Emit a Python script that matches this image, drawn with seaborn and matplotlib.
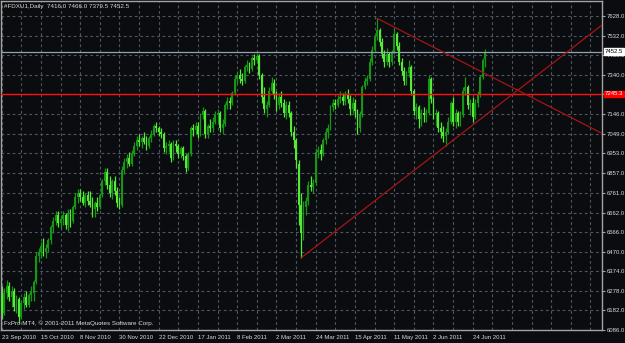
import numpy as np
import pandas as pd
import matplotlib
matplotlib.use("Agg")
import matplotlib.pyplot as plt
import matplotlib.transforms as mtransforms
import seaborn as sns

# ---------------- data ----------------
symbol_title = "#FDXU1,Daily  7416.0 7466.0 7379.5 7452.5"
copyright_text = "FxPro MT4, \u00a9 2001-2011 MetaQuotes Software Corp."

opens = [
    6260, 6170, 6270, 6300, 6250, 6280, 6200, 6240, 6150, 6220,
    6250, 6210, 6260, 6270, 6320, 6450, 6470, 6500, 6470, 6490,
    6530, 6590, 6620, 6650, 6610, 6630, 6650, 6600, 6660, 6620,
    6690, 6740, 6760, 6740, 6710, 6750, 6720, 6700, 6680, 6710,
    6690, 6750, 6820, 6860, 6800, 6760, 6820, 6770, 6710, 6700,
    6870, 6910, 6930, 6900, 6950, 6990, 7020, 7010, 7030, 7010,
    6990, 7030, 7050, 7090, 7080, 7060, 7050, 6980, 6990, 7000,
    6930, 7000, 6990, 6950, 6980, 6940, 6880, 6950, 7080, 7070,
    7090, 7050, 7140, 7160, 7050, 7090, 7080, 7110, 7140, 7150,
    7080, 7100, 7190, 7210, 7200, 7250, 7320, 7340, 7320, 7310,
    7380, 7390, 7370, 7420, 7410, 7430, 7340, 7230, 7170, 7190,
    7260, 7300, 7240, 7190, 7230, 7200, 7150, 7190, 7150, 7060,
    7020, 6900, 6700, 6560, 6690, 6720, 6800, 6790, 6810, 6960,
    6970, 6950, 7020, 7060, 7080, 7180, 7200, 7190, 7220, 7230,
    7210, 7240, 7220, 7170, 7200, 7160, 7080, 7140, 7280, 7310,
    7320, 7400, 7460, 7530, 7560, 7500, 7440, 7400, 7440, 7400,
    7450, 7540, 7480, 7400, 7360, 7310, 7350, 7380, 7260, 7160,
    7180, 7120, 7150, 7140, 7150, 7320, 7220, 7140, 7150, 7080,
    7060, 7040, 7060, 7110, 7200, 7110, 7150, 7110, 7140, 7260,
    7280, 7190, 7200, 7130, 7200, 7240, 7330, 7416.0,
]
highs = [
    6300, 6290, 6330, 6320, 6300, 6290, 6260, 6250, 6230, 6270,
    6280, 6270, 6300, 6330, 6470, 6490, 6520, 6540, 6510, 6540,
    6600, 6640, 6670, 6670, 6650, 6670, 6660, 6680, 6680, 6700,
    6760, 6780, 6780, 6770, 6760, 6770, 6770, 6740, 6720, 6740,
    6760, 6830, 6880, 6880, 6840, 6830, 6840, 6790, 6740, 6890,
    6930, 6950, 6960, 6970, 7010, 7040, 7050, 7040, 7060, 7040,
    7040, 7070, 7100, 7110, 7090, 7080, 7060, 7010, 7020, 7010,
    7020, 7020, 7000, 6990, 6990, 6950, 6960, 7090, 7100, 7110,
    7110, 7150, 7180, 7170, 7100, 7120, 7130, 7160, 7170, 7160,
    7120, 7200, 7230, 7230, 7260, 7340, 7360, 7370, 7350, 7390,
    7410, 7400, 7430, 7440, 7446, 7440, 7350, 7280, 7210, 7280,
    7330, 7320, 7260, 7250, 7260, 7220, 7210, 7210, 7160, 7090,
    7030, 6920, 6760, 6720, 6740, 6820, 6840, 6830, 6980, 6990,
    7000, 7030, 7080, 7100, 7190, 7220, 7220, 7240, 7260, 7250,
    7260, 7270, 7240, 7230, 7220, 7170, 7160, 7290, 7330, 7340,
    7420, 7480, 7540, 7617, 7570, 7520, 7460, 7470, 7450, 7460,
    7570, 7550, 7500, 7420, 7380, 7360, 7410, 7390, 7270, 7200,
    7190, 7170, 7180, 7170, 7340, 7330, 7230, 7170, 7160, 7110,
    7090, 7080, 7130, 7210, 7230, 7170, 7160, 7160, 7280, 7330,
    7290, 7220, 7230, 7220, 7260, 7340, 7420, 7466.0,
]
lows = [
    6140, 6160, 6240, 6230, 6200, 6180, 6170, 6120, 6140, 6190,
    6200, 6200, 6230, 6230, 6310, 6420, 6440, 6450, 6440, 6470,
    6510, 6560, 6600, 6590, 6580, 6600, 6580, 6570, 6590, 6610,
    6680, 6710, 6720, 6700, 6690, 6700, 6690, 6640, 6640, 6670,
    6680, 6740, 6800, 6780, 6740, 6730, 6750, 6690, 6680, 6690,
    6850, 6880, 6890, 6890, 6940, 6970, 6990, 6980, 7000, 6970,
    6980, 7010, 7040, 7060, 7040, 7030, 6960, 6950, 6960, 6910,
    6920, 6960, 6930, 6930, 6920, 6860, 6870, 6940, 7040, 7050,
    7030, 7040, 7120, 7030, 7030, 7060, 7060, 7100, 7110, 7060,
    7050, 7090, 7170, 7170, 7190, 7240, 7300, 7300, 7290, 7300,
    7360, 7350, 7360, 7390, 7400, 7320, 7200, 7150, 7130, 7180,
    7250, 7220, 7160, 7170, 7180, 7130, 7120, 7130, 7040, 6980,
    6880, 6600, 6440, 6530, 6650, 6700, 6770, 6760, 6800, 6930,
    6920, 6940, 7000, 7030, 7070, 7160, 7170, 7180, 7200, 7190,
    7190, 7200, 7140, 7150, 7130, 7050, 7060, 7130, 7270, 7290,
    7310, 7390, 7450, 7510, 7480, 7420, 7380, 7390, 7380, 7390,
    7440, 7460, 7390, 7340, 7290, 7290, 7330, 7240, 7140, 7120,
    7080, 7090, 7110, 7110, 7140, 7200, 7120, 7090, 7060, 7030,
    7010, 6990, 7050, 7100, 7090, 7080, 7090, 7090, 7130, 7240,
    7170, 7140, 7110, 7120, 7180, 7230, 7320, 7379.5,
]
closes = [
    6170, 6270, 6300, 6250, 6280, 6200, 6240, 6150, 6220, 6250,
    6210, 6260, 6280, 6320, 6450, 6470, 6500, 6470, 6490, 6530,
    6590, 6620, 6650, 6610, 6630, 6650, 6600, 6660, 6620, 6690,
    6740, 6760, 6740, 6710, 6750, 6720, 6700, 6680, 6710, 6690,
    6750, 6820, 6860, 6800, 6760, 6820, 6770, 6710, 6700, 6870,
    6910, 6930, 6900, 6950, 6990, 7020, 7010, 7030, 7010, 6990,
    7030, 7050, 7090, 7080, 7060, 7050, 6980, 6990, 7000, 6930,
    7000, 6990, 6950, 6980, 6940, 6880, 6950, 7080, 7070, 7090,
    7050, 7140, 7160, 7050, 7090, 7080, 7110, 7140, 7150, 7080,
    7100, 7190, 7210, 7200, 7250, 7320, 7340, 7320, 7310, 7380,
    7390, 7370, 7420, 7410, 7430, 7340, 7230, 7170, 7190, 7260,
    7300, 7240, 7190, 7230, 7200, 7150, 7190, 7150, 7060, 7020,
    6920, 6700, 6560, 6690, 6720, 6800, 6790, 6810, 6960, 6970,
    6950, 7020, 7060, 7080, 7180, 7200, 7190, 7220, 7230, 7210,
    7240, 7220, 7170, 7200, 7160, 7080, 7140, 7280, 7310, 7320,
    7400, 7460, 7530, 7560, 7500, 7440, 7400, 7440, 7400, 7450,
    7540, 7480, 7400, 7360, 7310, 7350, 7380, 7260, 7160, 7180,
    7120, 7150, 7140, 7150, 7320, 7220, 7140, 7150, 7080, 7060,
    7040, 7060, 7110, 7200, 7110, 7150, 7110, 7140, 7260, 7280,
    7190, 7200, 7130, 7200, 7240, 7330, 7410, 7452.5,
]

date_labels = ["23 Sep 2010", "15 Oct 2010", "8 Nov 2010", "30 Nov 2010",
               "22 Dec 2010", "17 Jan 2011", "8 Feb 2011", "2 Mar 2011",
               "24 Mar 2011", "15 Apr 2011", "11 May 2011", "2 Jun 2011",
               "24 Jun 2011"]
date_label_bars = [0, 16, 32, 48, 64, 80, 96, 112, 128, 144, 160, 176, 192]

price_ticks = [7628.0, 7532.0, 7436.0, 7340.0, 7244.0, 7146.0, 7049.0, 6953.0,
               6857.0, 6761.0, 6662.0, 6566.0, 6470.0, 6374.0, 6278.0, 6182.0,
               6086.0]
# the 7244.0 grid label sits under the red level box in the reference
hidden_tick_labels = [7244.0]

red_level = 7245.3
bid_price = 7452.5

trend_up_x = [122.0, 244.7]
trend_up_y = [6440.0, 7584.0]
trend_down_x = [153.0, 244.7]
trend_down_y = [7617.0, 7052.0]

# ---------------- style ----------------
BG = "#0b0c0f"
GRID = "#4a5862"
BULL = "#159615"
BEAR = "#55ea36"
TXT = "#d9d9d9"
FRAME = "#a3a3a3"
FS = 4.3

sns.set_theme(style="dark", rc={"axes.facecolor": BG, "figure.facecolor": BG})
plt.rcParams["font.family"] = ["Liberation Sans", "DejaVu Sans"]

fig = plt.figure(figsize=(6.25, 3.43), dpi=100, facecolor=BG)
ax = fig.add_axes([1 / 625, 13 / 343, 601 / 625, 329 / 343])
ax.set_facecolor(BG)

df = pd.DataFrame({"open": opens, "high": highs, "low": lows, "close": closes})
df["bar"] = np.arange(len(df))
df["bull"] = df["close"] >= df["open"]
col = np.where(df["bull"], BULL, BEAR)

xmin, xmax = -0.3, 244.7
ymin, ymax = 6086.0, 7702.0
ax.set_xlim(xmin, xmax)
ax.set_ylim(ymin, ymax)

# grid (dashed)
for b in range(0, 245, 8):
    ax.axvline(b, color=GRID, lw=0.8, ls=(0, (2.5, 2.5)), zorder=0)
for p in price_ticks:
    ax.axhline(p, color=GRID, lw=0.8, ls=(0, (2.5, 2.5)), zorder=0)

# candles
ax.vlines(df["bar"], df["low"], df["high"], colors=col, lw=0.9, zorder=2)
body_lo = np.minimum(df["open"], df["close"])
body_h = np.abs(df["close"] - df["open"])
ax.bar(df["bar"], body_h, bottom=body_lo, width=0.75, color=col,
       linewidth=0, zorder=3)

# horizontal levels
ax.axhline(bid_price, color="#8fa3b0", lw=0.9, zorder=4)
ax.axhline(red_level, color="#ff1010", lw=1.0, zorder=4)

# trend lines
sns.lineplot(x=trend_up_x, y=trend_up_y, ax=ax, color="#a51515", lw=0.9,
             estimator=None, sort=False, zorder=5)
sns.lineplot(x=trend_down_x, y=trend_down_y, ax=ax, color="#a51515", lw=0.9,
             estimator=None, sort=False, zorder=5)

# axes / ticks
for s in ["left", "right", "bottom", "top"]:
    ax.spines[s].set_visible(True)
    ax.spines[s].set_color(FRAME)
    ax.spines[s].set_linewidth(1.0)

ax.yaxis.tick_right()
ax.set_yticks(price_ticks)
ax.set_yticklabels(["" if p in hidden_tick_labels else f"{p:.1f}"
                    for p in price_ticks])
ax.set_xticks(date_label_bars)
ax.set_xticklabels(date_labels)
for lab in ax.get_xticklabels():
    lab.set_horizontalalignment("left")
ax.tick_params(axis="both", which="both", labelsize=FS, colors=TXT,
               length=2.5, width=0.8, direction="out", pad=0.8)
ax.tick_params(axis="x", color=FRAME)
ax.tick_params(axis="y", color=FRAME)
ax.set_xlabel("")
ax.set_ylabel("")
ax.grid(False)

# price boxes on right axis
trans = mtransforms.blended_transform_factory(ax.transAxes, ax.transData)
ax.text(1.004, bid_price, f"{bid_price:.1f}", transform=trans, ha="left",
        va="center", fontsize=FS, color="black", clip_on=False, zorder=10,
        bbox=dict(boxstyle="square,pad=0.15", fc="white", ec="white"))
ax.text(1.004, red_level, f"{red_level:.1f}", transform=trans, ha="left",
        va="center", fontsize=FS, color="white", clip_on=False, zorder=10,
        bbox=dict(boxstyle="square,pad=0.15", fc="#ff0000", ec="#ff0000"))

# texts
ax.text(0.005, 0.992, symbol_title, transform=ax.transAxes, ha="left",
        va="top", fontsize=FS + 0.2, color=TXT, zorder=10)
ax.text(0.005, 0.012, copyright_text, transform=ax.transAxes, ha="left",
        va="bottom", fontsize=FS + 0.2, color=TXT, zorder=10)

fig.savefig("out.png", dpi=100, facecolor=BG)
